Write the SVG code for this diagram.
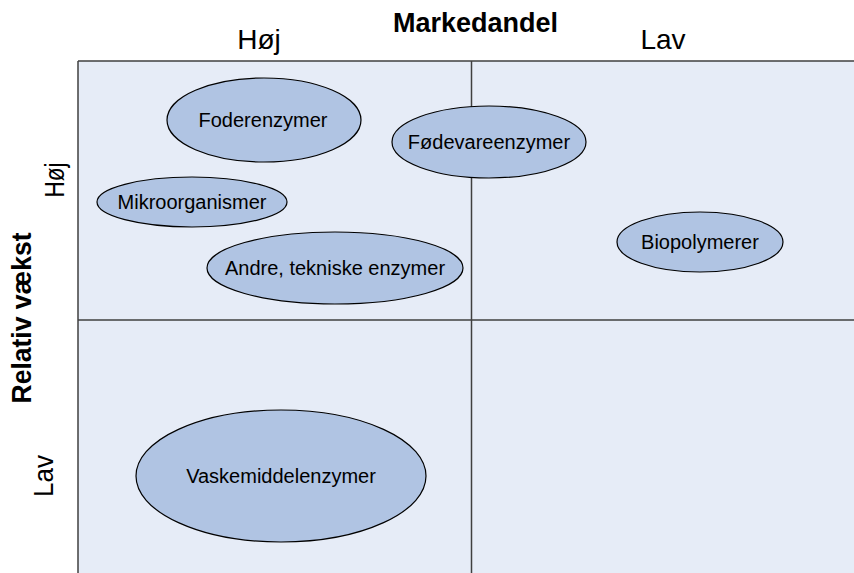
<svg xmlns="http://www.w3.org/2000/svg" width="854" height="573" viewBox="0 0 854 573">
<style>
.t{font-family:"Liberation Sans",Arial,sans-serif;fill:#000}
.ax{font-size:28px}
.ti{font-size:27px;font-weight:bold}
.lb{font-size:20px;text-anchor:middle}
.el{fill:#B0C4E3;stroke:#000;stroke-width:1.2}
.grid{stroke:#404040;stroke-width:1.5;fill:none}
</style>
<rect width="854" height="573" fill="#fff"/>
<g id="grid">
<rect x="78" y="61" width="780" height="516" fill="#E6ECF7"/>
<path class="grid" d="M78,61H854M78,61V573M471.5,61V573M78,320H854"/>
</g>
<g id="axis-labels">
<text class="t ti" x="475.5" y="32" text-anchor="middle">Markedandel</text>
<text class="t ax" x="259" y="49" text-anchor="middle">Høj</text>
<text class="t ax" x="663" y="49" text-anchor="middle">Lav</text>
<text class="t ti" transform="translate(31,318) rotate(-90)" text-anchor="middle" textLength="171" lengthAdjust="spacingAndGlyphs">Relativ vækst</text>
<text class="t ax" transform="translate(64,180) rotate(-90)" text-anchor="middle" textLength="35" lengthAdjust="spacingAndGlyphs">Høj</text>
<text class="t ax" transform="translate(53,476) rotate(-90)" text-anchor="middle" textLength="42" lengthAdjust="spacingAndGlyphs">Lav</text>
</g>
<g id="foderenzymer"><ellipse class="el" cx="264" cy="120" rx="97" ry="42"/><text class="t lb" x="263" y="127">Foderenzymer</text></g>
<g id="fodevareenzymer"><ellipse class="el" cx="489" cy="142" rx="97" ry="36"/><text class="t lb" x="489" y="149">Fødevareenzymer</text></g>
<g id="mikroorganismer"><ellipse class="el" cx="192" cy="202" rx="95" ry="25"/><text class="t lb" x="192" y="209">Mikroorganismer</text></g>
<g id="andre"><ellipse class="el" cx="335" cy="268" rx="128" ry="36"/><text class="t lb" x="335" y="275">Andre, tekniske enzymer</text></g>
<g id="biopolymerer"><ellipse class="el" cx="700" cy="242" rx="83" ry="30"/><text class="t lb" x="700" y="249">Biopolymerer</text></g>
<g id="vaskemiddelenzymer"><ellipse class="el" cx="281" cy="476" rx="145" ry="66"/><text class="t lb" x="281" y="483">Vaskemiddelenzymer</text></g>
<g id="connectors"/>
</svg>
